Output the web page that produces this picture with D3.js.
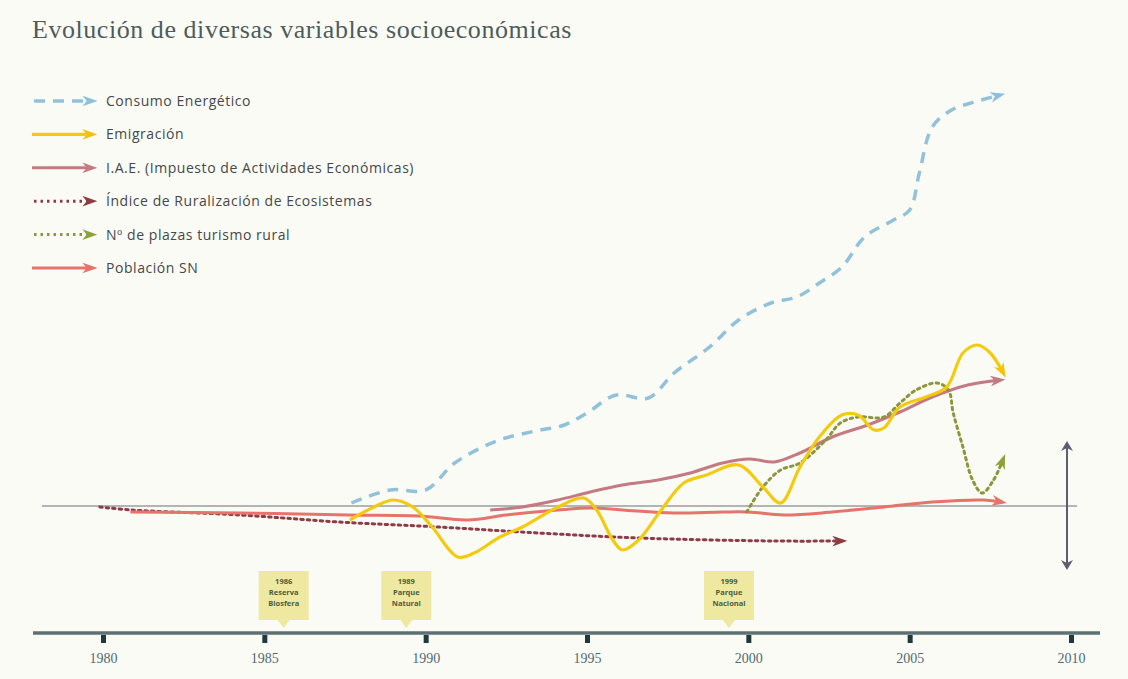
<!DOCTYPE html>
<html>
<head>
<meta charset="utf-8">
<script src="https://cdn.jsdelivr.net/npm/d3@7"></script>
<style>
  body { margin: 0; background: #fbfbf6; }
  svg { display: block; }
</style>
</head>
<body>
<svg></svg>
<script>
// values (index, 0 = grey base line)
let consumoYears = [1987.7, 1988.9, 1990.0, 1990.9, 1992.2, 1993.4, 1994.3, 1995.0, 1995.9, 1996.9, 1997.7, 1998.8, 1999.7, 2000.7, 2001.5, 2002.2, 2002.9, 2003.6, 2004.5, 2005.0, 2005.3, 2005.7, 2006.3, 2007.0, 2007.8]
let consumoValues = [3, 16, 16, 43, 65, 75, 81, 93, 111, 108, 133, 159, 186, 203, 209, 223, 239, 269, 286, 296, 333, 379, 396, 404, 411]

let emigYears = [1987.65, 1988.4, 1989.0, 1989.6, 1990.2, 1991.0, 1991.5, 1992.3, 1993.0, 1994.1, 1994.9, 1995.3, 1995.8, 1996.1, 1996.6, 1997.3, 1998.0, 1998.7, 1999.7, 2000.45, 2001.0, 2001.6, 2002.2, 2002.9, 2003.4, 2003.9, 2004.2, 2004.7, 2005.5, 2006.15, 2006.65, 2007.1, 2007.5, 2007.9]
let emigValues = [-14, -1, 6, -1, -21, -51, -47, -31, -21, -1, 8, -4, -34, -44, -34, -4, 23, 31, 41, 19, 3, 39, 69, 91, 91, 76, 78, 99, 109, 119, 153, 161, 153, 133]

let iaeYears = [1992.0, 1993.0, 1994.1, 1995.1, 1996.1, 1997.2, 1998.2, 1999.2, 2000.05, 2000.8, 2001.6, 2002.6, 2003.7, 2004.7, 2005.7, 2006.8, 2007.8]
let iaeValues = [-4, -1, 6, 14, 21, 26, 33, 43, 47, 44, 53, 69, 81, 94, 109, 121, 126]

let ruralYears = [1979.9, 1980.9, 1984.25, 1987.3, 1990.4, 1993.5, 1996.6, 2000.8, 2002.9]
let ruralValues = [-1, -4, -9, -16, -21, -27, -32, -35, -35]

let turismoYears = [1999.95, 2000.45, 2001.0, 2001.6, 2002.4, 2002.85, 2003.4, 2004.2, 2004.7, 2005.2, 2005.85, 2006.2, 2006.35, 2006.65, 2006.95, 2007.25, 2007.6, 2007.9]
let turismoValues = [-6, 19, 36, 43, 66, 83, 89, 89, 103, 116, 123, 116, 93, 59, 26, 13, 26, 47]

let poblacionYears = [1980.85, 1984.25, 1987.6, 1989.8, 1991.3, 1992.5, 1994.1, 1995.1, 1996.1, 1997.7, 1999.2, 2000.0, 2001.1, 2002.6, 2004.2, 2005.7, 2007.3, 2007.85]
let poblacionValues = [-6, -7, -9, -10, -14, -9, -4, -2, -4, -7, -6, -6, -9, -6, -1, 4, 6, 4]

let legendLabels = ['Consumo Energético', 'Emigración', 'I.A.E. (Impuesto de Actividades Económicas)', 'Índice de Ruralización de Ecosistemas', 'Nº de plazas turismo rural', 'Población SN']

let tickYears = [1980, 1985, 1990, 1995, 2000, 2005, 2010]

let eventPos = [1985.6, 1989.4, 1999.4]
let eventLabels = [['1986', 'Reserva', 'Biosfera'], ['1989', 'Parque', 'Natural'], ['1999', 'Parque', 'Nacional']]

let width = 1128
let height = 679

let svg = d3.select('svg')
svg.attr('width', width).attr('height', height)

svg.append('rect')
    .attr('width', width)
    .attr('height', height)
    .attr('fill', '#fbfbf6')

let xScale = d3.scaleLinear()
    .domain([1980, 2010])
    .range([103, 1071])

let yScale = d3.scaleLinear()
    .domain([-70, 420])
    .range([576, 86])

let zip = (xs, ys) => xs.map((x, i) => [x, ys[i]])

let series = [
    { label: legendLabels[0], data: zip(consumoYears, consumoValues), color: '#92c2da', head: '#8cc0dc', width: 3.5, dash: '11,8' },
    { label: legendLabels[1], data: zip(emigYears, emigValues), color: '#f3cb0e', head: '#f3c20e', width: 3.2, dash: null },
    { label: legendLabels[2], data: zip(iaeYears, iaeValues), color: '#c37a82', head: '#c37a82', width: 3, dash: null },
    { label: legendLabels[3], data: zip(ruralYears, ruralValues), color: '#8e3b47', head: '#8c3d40', width: 3, dash: '2.5,4' },
    { label: legendLabels[4], data: zip(turismoYears, turismoValues), color: '#8c963c', head: '#8ea23c', width: 3, dash: '2.5,4' },
    { label: legendLabels[5], data: zip(poblacionYears, poblacionValues), color: '#e6736c', head: '#e6736c', width: 3, dash: null }
]

let defs = svg.append('defs')
series.forEach((s, i) => {
    defs.append('marker')
        .attr('id', 'arrow' + i)
        .attr('viewBox', '0 0 14 10')
        .attr('refX', 9)
        .attr('refY', 5)
        .attr('markerUnits', 'userSpaceOnUse')
        .attr('markerWidth', 15)
        .attr('markerHeight', 11)
        .attr('orient', 'auto')
        .append('path')
        .attr('d', 'M0,0 L14,5 L0,10 L4,5 Z')
        .attr('fill', s.head)
})
defs.append('marker')
    .attr('id', 'arrowDark')
    .attr('viewBox', '0 0 10 12')
    .attr('refX', 8)
    .attr('refY', 6)
    .attr('markerUnits', 'userSpaceOnUse')
    .attr('markerWidth', 10)
    .attr('markerHeight', 12)
    .attr('orient', 'auto-start-reverse')
    .append('path')
    .attr('d', 'M0,0 L10,6 L0,12 L3,6 Z')
    .attr('fill', '#5c5c74')

// title
svg.append('text')
    .attr('x', 32)
    .attr('y', 38)
    .style('font-family', '"Liberation Serif", serif')
    .style('font-size', '26px')
    .style('letter-spacing', '0.55px')
    .attr('fill', '#4e5c5c')
    .text('Evolución de diversas variables socioeconómicas')

// base line
svg.append('line')
    .attr('x1', 42).attr('x2', 1077)
    .attr('y1', yScale(0)).attr('y2', yScale(0))
    .attr('stroke', '#9a9ea0')
    .attr('stroke-width', 1.5)

// vertical double arrow
svg.append('line')
    .attr('x1', 1067).attr('x2', 1067)
    .attr('y1', yScale(63)).attr('y2', yScale(-62))
    .attr('stroke', '#5c5c74')
    .attr('stroke-width', 2)
    .attr('marker-start', 'url(#arrowDark)')
    .attr('marker-end', 'url(#arrowDark)')

let line = d3.line()
    .x(d => xScale(d[0]))
    .y(d => yScale(d[1]))
    .curve(d3.curveCatmullRom.alpha(0.5))

let drawOrder = [3, 5, 0, 2, 4, 1]
drawOrder.forEach(i => {
    let s = series[i]
    svg.append('path')
        .attr('d', line(s.data))
        .attr('fill', 'none')
        .attr('stroke', s.color)
        .attr('stroke-width', s.width)
        .attr('stroke-linecap', s.dash && s.dash.startsWith('2.5') ? 'round' : 'butt')
        .attr('stroke-dasharray', s.dash)
        .attr('marker-end', 'url(#arrow' + i + ')')
})

// legend
let legendY = d3.scalePoint()
    .domain(legendLabels)
    .range([101, 268])

series.forEach((s, i) => {
    let g = svg.append('g')
        .attr('transform', 'translate(0,' + legendY(s.label) + ')')
    g.append('line')
        .attr('x1', s.dash ? 34 : 32).attr('x2', 92)
        .attr('y1', 0).attr('y2', 0)
        .attr('stroke', s.color)
        .attr('stroke-width', s.width)
        .attr('stroke-dasharray', s.dash)
        .attr('marker-end', 'url(#arrow' + i + ')')
    g.append('text')
        .attr('x', 106)
        .attr('y', 5)
        .style('font-family', '"Open Sans", sans-serif')
        .style('font-size', '14px')
        .style('letter-spacing', '0.55px')
        .attr('fill', '#45484a')
        .text(s.label)
})

// event boxes
eventPos.forEach((p, i) => {
    let cx = xScale(p)
    let g = svg.append('g')
    g.append('path')
        .attr('d', 'M' + (cx - 25) + ',571 H' + (cx + 25) + ' V620 H' + (cx + 6) + ' L' + cx + ',628 L' + (cx - 6) + ',620 H' + (cx - 25) + ' Z')
        .attr('fill', '#eee8a0')
    eventLabels[i].forEach((t, j) => {
        g.append('text')
            .attr('x', cx)
            .attr('y', 584 + j * 11)
            .attr('text-anchor', 'middle')
            .style('font-family', '"Open Sans", sans-serif')
            .style('font-size', '7.5px')
            .style('font-weight', 700)
            .attr('fill', '#4a5e3e')
            .text(t)
    })
})

// axis
let xAxis = d3.axisBottom(xScale)
    .tickValues(tickYears)
    .tickFormat(d3.format('d'))
    .tickSize(0)
    .tickPadding(20)

let axisG = svg.append('g')
    .attr('transform', 'translate(0,633)')
    .call(xAxis)
axisG.select('.domain').remove()
axisG.insert('line', ':first-child')
    .attr('x1', 33).attr('x2', 1100)
    .attr('stroke', '#5f7072')
    .attr('stroke-width', 3.5)
axisG.selectAll('.tick').append('rect')
    .attr('x', -2.5).attr('y', 2)
    .attr('width', 5).attr('height', 8)
    .attr('fill', '#1f3a3c')
axisG.selectAll('.tick text')
    .style('font-family', '"Liberation Serif", serif')
    .style('font-size', '14px')
    .attr('fill', '#4f6a72')
</script>
</body>
</html>
